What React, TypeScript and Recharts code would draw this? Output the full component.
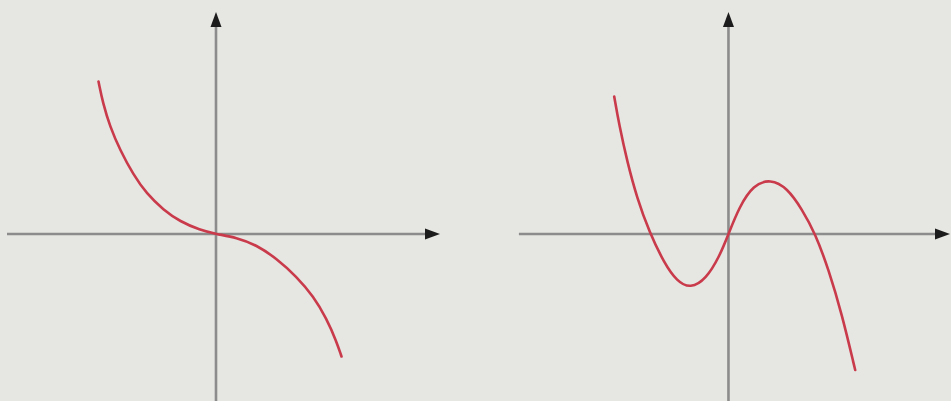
import React from 'react'
import { LineChart, Line, XAxis, YAxis, ReferenceLine } from 'recharts'

// one unit = 50px on screen, origin where the axes cross
const leftCurve = [
  { x: -2.35, y: 3.05 },
  { x: -2.26, y: 2.61 },
  { x: -2.12, y: 2.15 },
  { x: -1.92, y: 1.68 },
  { x: -1.65, y: 1.18 },
  { x: -1.39, y: 0.81 },
  { x: -1.05, y: 0.48 },
  { x: -0.72, y: 0.25 },
  { x: -0.32, y: 0.08 },
  { x: 0, y: 0 },
  { x: 0.41, y: -0.07 },
  { x: 0.81, y: -0.22 },
  { x: 1.21, y: -0.49 },
  { x: 1.61, y: -0.85 },
  { x: 1.95, y: -1.25 },
  { x: 2.21, y: -1.69 },
  { x: 2.41, y: -2.15 },
  { x: 2.51, y: -2.45 },
]

const rightCurve = [
  { x: -2.29, y: 2.75 },
  { x: -2.19, y: 2.18 },
  { x: -2.03, y: 1.45 },
  { x: -1.83, y: 0.71 },
  { x: -1.59, y: 0.05 },
  { x: -1.29, y: -0.58 },
  { x: -1.03, y: -0.95 },
  { x: -0.76, y: -1.09 },
  { x: -0.45, y: -0.9 },
  { x: -0.18, y: -0.45 },
  { x: 0, y: 0 },
  { x: 0.22, y: 0.55 },
  { x: 0.5, y: 0.98 },
  { x: 0.84, y: 1.1 },
  { x: 1.18, y: 0.92 },
  { x: 1.47, y: 0.5 },
  { x: 1.74, y: 0.01 },
  { x: 2.01, y: -0.72 },
  { x: 2.27, y: -1.59 },
  { x: 2.54, y: -2.72 },
]

const leftXDomain = [-4.32, 5.18]
const rightXDomain = [-5.06, 4.46]
const yDomain = [-3.34, 4.68]

const leftXAxisSpan = [-4.18, 4.48]
const rightXAxisSpan = [-4.2, 4.44]
const yAxisSpan = [-3.4, 4.44]

const BG = '#e6e6e2'
const AXIS = '#8c8c8c'
const HEAD = '#1c1c1c'
const CURVE = '#c93a4b'

const Arrow = (props: any) => {
  const { x1, y1, x2, y2 } = props
  const dx = x2 - x1
  const dy = y2 - y1
  const len = Math.sqrt(dx * dx + dy * dy) || 1
  const ux = dx / len
  const uy = dy / len
  const headLen = 15
  const half = 5.5
  const bx = x2 - ux * headLen
  const by = y2 - uy * headLen
  const pts = [
    `${x2},${y2}`,
    `${bx - uy * half},${by + ux * half}`,
    `${bx + uy * half},${by - ux * half}`,
  ].join(' ')
  return (
    <g>
      <line x1={x1} y1={y1} x2={bx + ux * 2} y2={by + uy * 2} stroke={AXIS} strokeWidth={2.6} />
      <polygon points={pts} fill={HEAD} />
    </g>
  )
}

const Panel = ({ data, xDomain, xSpan }: { data: any[]; xDomain: number[]; xSpan: number[] }) => (
  <LineChart width={475} height={401} data={data} margin={{ top: 0, right: 0, bottom: 0, left: 0 }}>
    <XAxis dataKey="x" type="number" domain={xDomain} hide allowDataOverflow />
    <YAxis type="number" domain={yDomain} hide allowDataOverflow />
    <ReferenceLine
      segment={[{ x: xSpan[0], y: 0 }, { x: xSpan[1], y: 0 }]}
      shape={Arrow}
      ifOverflow="visible"
    />
    <ReferenceLine
      segment={[{ x: 0, y: yAxisSpan[0] }, { x: 0, y: yAxisSpan[1] }]}
      shape={Arrow}
      ifOverflow="visible"
    />
    <Line
      type="basis"
      dataKey="y"
      stroke={CURVE}
      strokeWidth={2.6}
      strokeLinecap="round"
      dot={false}
      activeDot={false}
      isAnimationActive={false}
    />
  </LineChart>
)

export default function App() {
  return (
    <div
      style={{
        position: 'fixed',
        left: 0,
        top: 0,
        width: 951,
        height: 401,
        background: BG,
        display: 'flex',
      }}
    >
      <Panel data={leftCurve} xDomain={leftXDomain} xSpan={leftXAxisSpan} />
      <div style={{ width: 1 }} />
      <Panel data={rightCurve} xDomain={rightXDomain} xSpan={rightXAxisSpan} />
    </div>
  )
}
